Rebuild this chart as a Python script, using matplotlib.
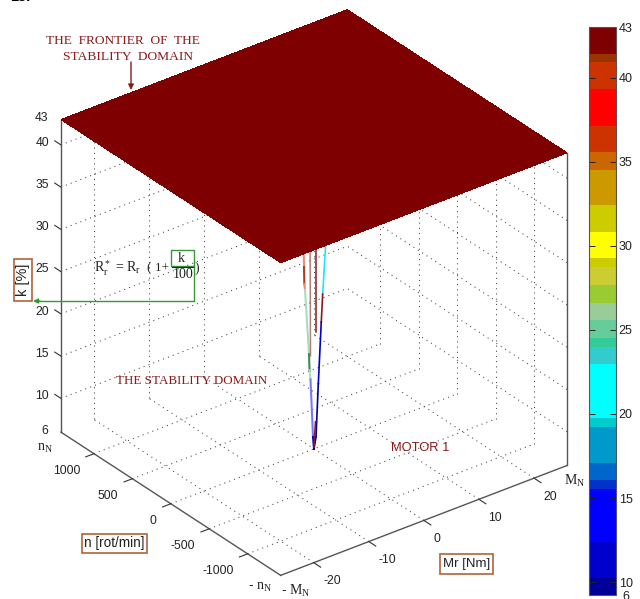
from matplotlib.colors import ListedColormap, BoundaryNorm
from matplotlib.cm import ScalarMappable
from matplotlib.patches import Rectangle
from mpl_toolkits.mplot3d import proj3d
import matplotlib
matplotlib.use('Agg')
import matplotlib.pyplot as plt
import numpy as np

mr_lim = [-26, 26]
n_lim = [-1430, 1430]
k_lim = [6, 43]

mr_ticks = [-20, -10, 0, 10, 20]
n_ticks = [1000, 500, 0, -500, -1000]
k_ticks = [10, 15, 20, 25, 30, 35, 40]

# plateau at the frontier of the stability domain
k_plateau = [[43, 43], [43, 43]]

# the narrow well below the plateau, one list per visible edge
left_mr = [-1.18, -1.17, -1.14, -1.1, -1.02, -0.57, -0.51, -0.4, -0.11, 0]
left_n = [50, 50, 48, 47, 43.6, 24, 21.8, 17, 4.8, 0]
left_k = [31, 29.3, 27.5, 25.5, 24.8, 17.2, 15.3, 14.2, 7.4, 6]
left_col = ['#e0907a', '#e0907a', '#b03a20', '#e0907a', '#a8dcc0', '#3d8a50', '#a8dcc0', '#7878ff', '#0000cc']

second_mr = [-0.45, -0.4]
second_n = [19, 17]
second_k = [31, 17]

third_mr = [0.26, 0.26]
third_n = [-11, -11]
third_k = [31, 19.8]

right_mr = [1.33, 0.99, 0.83, 0.49, 0.23, 0]
right_n = [-56.6, -42, -35, -20.8, -9.7, 0]
right_k = [30.2, 24.3, 21.0, 13.7, 7.4, 6]
right_col = ['#20e8e8', '#8b1a1a', '#0000cc', '#000099', '#000099']

tip_mr = [0.17, 0]
tip_n = [-7.3, 0]
tip_k = [9.2, 6.2]

# colorbar bands, from the bottom up
band_edges = [9.23, 10.26, 12.4, 15.54, 16.07, 17.1, 19.24, 19.76, 22.96, 24.0, 24.54, 25.6,
              26.63, 27.68, 28.77, 29.27, 30.85, 32.44, 34.52, 35.58, 37.16, 39.35, 40.91, 41.41, 43.02]
band_colors = ['#000099', '#0000cc', '#0000ff', '#0033cc', '#0066cc', '#0099cc', '#00cccc', '#00ffff',
               '#33cccc', '#33cc99', '#66cc99', '#99cc99', '#99cc33', '#cccc33', '#cccc00', '#ffff00',
               '#cccc00', '#cc9900', '#cc6600', '#cc3300', '#ff0000', '#cc3300', '#993300', '#7f0000']
cbar_ticks = [10, 15, 20, 25, 30, 35, 40]

plt.rcParams['font.family'] = ['Liberation Sans', 'DejaVu Sans']
plt.rcParams['mathtext.fontset'] = 'custom'
plt.rcParams['mathtext.rm'] = 'Liberation Serif'
plt.rcParams['mathtext.it'] = 'Liberation Serif'

W, H = 640, 599
fig = plt.figure(figsize=(W / 100, H / 100), dpi=100)
cmap = ListedColormap(band_colors)
norm = BoundaryNorm(band_edges, cmap.N)

# matlab default view(-37.5, 30), cube box
ax = fig.add_axes([2.3 / W, -5.2 / H, 607 / W, 607 / H], projection='3d', proj_type='ortho', computed_zorder=False)
ax.view_init(elev=30, azim=-127.5)
ax.set_box_aspect((1, 1, 1))
ax.set_xlim(mr_lim)
ax.set_ylim(n_lim)
ax.set_zlim(k_lim)
ax.set_axis_off()

# annotations in image pixels
ov = fig.add_axes([0, 0, 1, 1], facecolor='none', zorder=5)
ov.set_xlim(0, W)
ov.set_ylim(H, 0)
ov.set_axis_off()

ink = '#222222'
grid_kw = dict(color='#444444', lw=0.75, ls=(0, (1, 4)), zorder=1)
edge_kw = dict(color='#555555', lw=1.0, zorder=2)
tick_kw = dict(color='#333333', lw=0.8, zorder=2)


def label3d(x, y, z, s, **kw):
    # plain 2d text placed where a 3d point lands on the image
    px, py, _ = proj3d.proj_transform(x, y, z, ax.get_proj())
    pos = ov.transData.inverted().transform(ax.transData.transform((px, py)))
    ov.text(pos[0], pos[1], s, va='center', fontsize=8.7, color=ink, **kw)


# grid on the floor and on the two back walls
for m in mr_ticks:
    ax.plot([m, m], n_lim, [k_lim[0], k_lim[0]], **grid_kw)
    ax.plot([m, m], [n_lim[1], n_lim[1]], k_lim, **grid_kw)
for n in n_ticks:
    ax.plot(mr_lim, [n, n], [k_lim[0], k_lim[0]], **grid_kw)
    ax.plot([mr_lim[1], mr_lim[1]], [n, n], k_lim, **grid_kw)
for k in k_ticks:
    ax.plot(mr_lim, [n_lim[1], n_lim[1]], [k, k], **grid_kw)
    ax.plot([mr_lim[1], mr_lim[1]], n_lim, [k, k], **grid_kw)

# box edges
ax.plot([mr_lim[0], mr_lim[0]], n_lim, [k_lim[0], k_lim[0]], **edge_kw)
ax.plot(mr_lim, [n_lim[0], n_lim[0]], [k_lim[0], k_lim[0]], **edge_kw)
ax.plot([mr_lim[0], mr_lim[0]], [n_lim[1], n_lim[1]], k_lim, **edge_kw)
ax.plot([mr_lim[1], mr_lim[1]], [n_lim[0], n_lim[0]], k_lim, **edge_kw)

# ticks and their labels
for m in mr_ticks:
    ax.plot([m, m], [n_lim[0], n_lim[0] - 90], [6, 6], **tick_kw)
    label3d(m - 2.15, n_lim[0] - 278, 6, str(m), ha='left')
for n in n_ticks:
    ax.plot([mr_lim[0], mr_lim[0] - 1.5], [n, n], [6, 6], **tick_kw)
    label3d(mr_lim[0] - 4.56, n - 145, 6, str(n), ha='right')
for k in k_ticks:
    ax.plot([mr_lim[0], mr_lim[0]], [n_lim[1], n_lim[1] + 80], [k, k], **tick_kw)
    label3d(mr_lim[0] - 1.36, n_lim[1] + 58, k + 0.25, str(k), ha='right')


def plot_edge(mr, n, k, colors, lw):
    for i in range(len(mr) - 1):
        ax.plot(mr[i:i + 2], n[i:i + 2], k[i:i + 2], color=colors[i], lw=lw, zorder=3)


plot_edge(left_mr, left_n, left_k, left_col, 1.5)
ax.plot(second_mr, second_n, second_k, color='#b08078', lw=1.1, zorder=3)
ax.plot(third_mr, third_n, third_k, color='#8b1a1a', lw=1.1, zorder=3)
plot_edge(right_mr, right_n, right_k, right_col, 1.2)
ax.plot(tip_mr, tip_n, tip_k, color='#8b1a1a', lw=1.2, zorder=4)

X, Y = np.meshgrid(mr_lim, n_lim)
ax.plot_surface(X, Y, np.array(k_plateau), color='#7f0000', shade=False, linewidth=0, antialiased=False, zorder=5)

# colorbar
cax = fig.add_axes([589 / W, (H - 595) / H, 27 / W, 568 / H])
cbar = fig.colorbar(ScalarMappable(norm=norm, cmap=cmap), cax=cax, spacing='proportional')
cbar.set_ticks(cbar_ticks)
cbar.set_ticklabels([str(t) for t in cbar_ticks])
cbar.minorticks_off()
cax.tick_params(direction='in', length=4, width=0.7, labelsize=9, pad=2, colors=ink, left=True, right=True)
cbar.outline.set_edgecolor('#555555')
cbar.outline.set_linewidth(0.8)

red = '#8b1a1a'
green = '#339933'
brown = '#b0623a'
serif = ['Liberation Serif', 'DejaVu Serif']

ov.text(123, 41, 'THE  FRONTIER  OF  THE', family=serif, fontsize=9.6, color=red, ha='center', va='center')
ov.text(128, 57, 'STABILITY  DOMAIN', family=serif, fontsize=9.7, color=red, ha='center', va='center')
ov.annotate('', xy=(131, 90), xytext=(131, 62), arrowprops=dict(arrowstyle='-|>', color=red, lw=1, mutation_scale=8, shrinkA=0, shrinkB=0))
ov.text(192, 381, 'THE STABILITY DOMAIN', family=serif, fontsize=9.4, color=red, ha='center', va='center')
ov.text(420, 448, 'MOTOR 1', fontsize=9.3, color=red, ha='center', va='center')

# formula with the green link to the k axis label
ov.text(94, 268, r'$\mathrm{R_r^*}$ = $\mathrm{R_r}$', fontsize=10, color=ink, ha='left', va='center', family=serif)
ov.text(147, 268, '( 1+', fontsize=9.5, color=ink, ha='left', va='center', family=serif)
ov.text(181, 258, 'k', fontsize=10, color=ink, ha='center', va='center', family=serif)
ov.text(183, 275, '100', fontsize=10, color=ink, ha='center', va='center', family=serif)
ov.plot([172, 194], [267, 267], color=ink, lw=0.8)
ov.text(197, 268, ')', fontsize=10, color=ink, ha='center', va='center', family=serif)
ov.add_patch(Rectangle((171, 250), 23, 16, fill=False, edgecolor=green, lw=1))
ov.plot([194, 194, 36], [266, 301, 301], color=green, lw=1)
ov.annotate('', xy=(33, 301), xytext=(40, 301), arrowprops=dict(arrowstyle='-|>', color=green, lw=1, mutation_scale=7, shrinkA=0, shrinkB=0))


def boxed(x, y, w, h, label, size, rotation=0):
    ov.add_patch(Rectangle((x, y), w, h, facecolor='white', edgecolor=brown, lw=1.2, zorder=3))
    ov.text(x + w / 2, y + h / 2, label, fontsize=size, color=ink, ha='center', va='center', rotation=rotation, zorder=4)


boxed(14, 259, 18, 42, 'k [%]', 10.5, rotation=90)
boxed(82, 534, 65, 19, 'n [rot/min]', 9.8)
boxed(440, 554, 53, 20, 'Mr [Nm]', 9.5)

# hand written limits
ov.text(41, 118, '43', fontsize=8.7, color=ink, ha='center', va='center')
ov.text(45, 431, '6', fontsize=8.7, color=ink, ha='center', va='center')
ov.text(619, 29, '43', fontsize=9, color=ink, ha='left', va='center')
ov.text(622, 597, '6', fontsize=9, color=ink, ha='left', va='center')
ov.text(45, 448, r'$\mathrm{n_N}$', fontsize=10, color=ink, ha='center', va='center')
ov.text(260, 587, r'- $\mathrm{n_N}$', fontsize=10, color=ink, ha='center', va='center')
ov.text(296, 591, r'- $\mathrm{M_N}$', fontsize=10, color=ink, ha='center', va='center')
ov.text(575, 481, r'$\mathrm{M_N}$', fontsize=10, color=ink, ha='center', va='center')
ov.text(10, -3, '13.', fontsize=10.5, fontweight='bold', color='black', ha='left', va='center')

fig.savefig('out.png', dpi=100)
